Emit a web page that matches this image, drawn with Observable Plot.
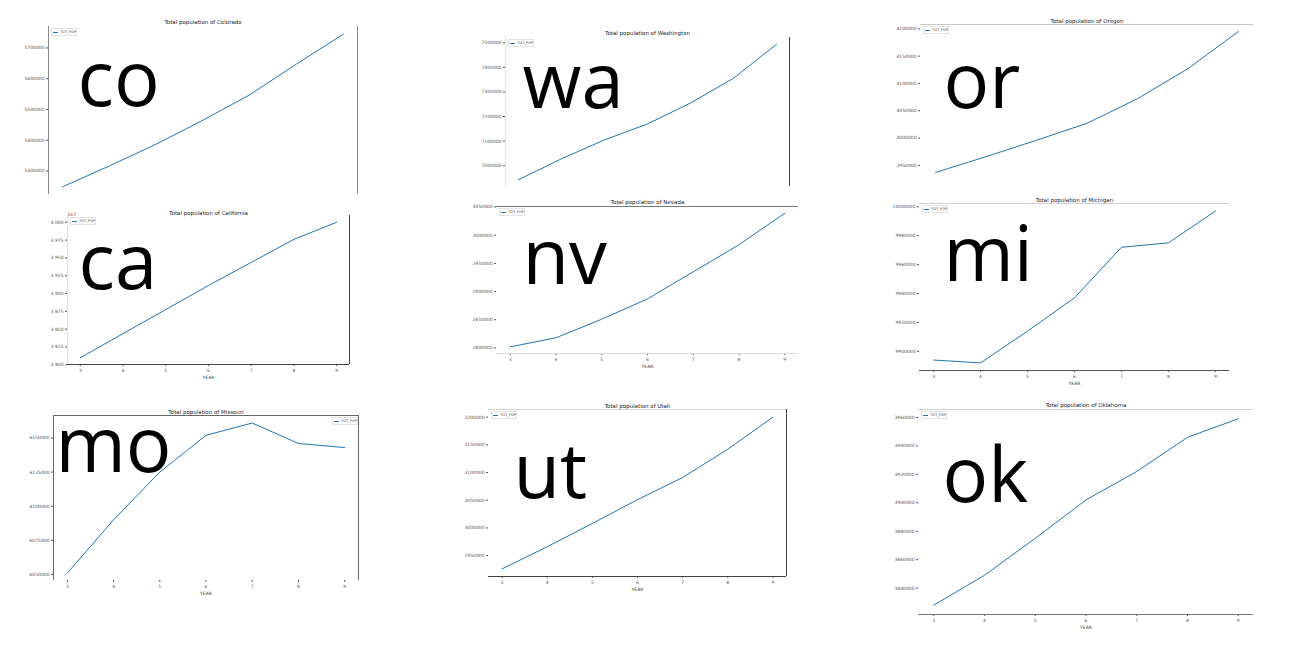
<!DOCTYPE html>
<html>
<head>
<meta charset="utf-8">
<script src="https://cdn.jsdelivr.net/npm/d3@7"></script>
<script src="https://cdn.jsdelivr.net/npm/@observablehq/plot@0.6"></script>
<style>
  html, body { margin: 0; padding: 0; background: #fff; }
  #wrap { position: relative; width: 1296px; height: 648px; overflow: hidden; background: #fff; }
  #wrap svg { position: absolute; max-width: none; }
  .legend { position: absolute; width: 24px; height: 6px; border: 0.5px solid #e2e2e2; background: #fff;
            font: 3.5px "DejaVu Sans", sans-serif; color: #444; display: flex; align-items: center; white-space: nowrap; }
  .legend i { display: inline-block; width: 7px; height: 0; border-top: 1px solid #1f77b4; margin: 0 2px 0 1px; }
</style>
</head>
<body>
<div id="wrap"></div>
<script>
// ---- data ----
const years = [3, 4, 5, 6, 7, 8, 9];
const stateCodes = ["co", "wa", "or", "ca", "nv", "mi", "mo", "ut", "ok"];
const stateNames = ["Colorado", "Washington", "Oregon", "California", "Nevada", "Michigan", "Missouri", "Utah", "Oklahoma"];
const seriesName = "TOT_POP";
const xLabel = "YEAR";

const coPop = [5248000, 5316000, 5387000, 5465000, 5548000, 5648000, 5745000];
const waPop = [6943000, 7028000, 7105000, 7170000, 7255000, 7356000, 7494000];
const orPop = [3937000, 3966000, 3996000, 4027000, 4072000, 4127000, 4195000];
const caPop = [38099000, 38437000, 38775000, 39113000, 39437000, 39761000, 40000000];
const nvPop = [2802000, 2818000, 2851000, 2887000, 2935000, 2983000, 3039000];
const miPop = [9894000, 9892000, 9914000, 9937000, 9972000, 9975000, 9997000];
const moPop = [6051000, 6090000, 6125000, 6152000, 6161000, 6146000, 6143000];
const utPop = [2926000, 2966000, 3008000, 3051000, 3091000, 3142000, 3200000];
const okPop = [3828000, 3849000, 3875000, 3902000, 3922000, 3946000, 3959000];

const coTicks = [5300000, 5400000, 5500000, 5600000, 5700000];
const waTicks = [7000000, 7100000, 7200000, 7300000, 7400000, 7500000];
const orTicks = [3950000, 4000000, 4050000, 4100000, 4150000, 4200000];
const caTicks = [38000000, 38250000, 38500000, 38750000, 39000000, 39250000, 39500000, 39750000, 40000000];
const nvTicks = [2800000, 2850000, 2900000, 2950000, 3000000, 3050000];
const miTicks = [9900000, 9920000, 9940000, 9960000, 9980000, 10000000];
const moTicks = [6050000, 6075000, 6100000, 6125000, 6150000];
const utTicks = [2950000, 3000000, 3050000, 3100000, 3150000, 3200000];
const okTicks = [3840000, 3860000, 3880000, 3900000, 3920000, 3940000, 3960000];

const pops = [coPop, waPop, orPop, caPop, nvPop, miPop, moPop, utPop, okPop];
const ticks = [coTicks, waTicks, orTicks, caTicks, nvTicks, miTicks, moTicks, utTicks, okTicks];

// ---- layout (page positions of each plot frame, spines, labels) ----
const layout = {
  co: {frame: [48, 26, 357, 194], spines: {left: "#8a8a8a", right: "#8a8a8a"}, xAxis: false, legend: "left", label: [29, 79], titleDy: -4},
  wa: {frame: [505, 37, 789, 186], spines: {left: "#e4e4e4", right: "#444"}, xAxis: false, legend: "left", label: [17, 70], titleDy: -4},
  or: {frame: [920, 24, 1253, 179], spines: {top: "#c8c8c8"}, xAxis: false, legend: "left", label: [23, 83], titleDy: -3},
  ca: {frame: [67, 215, 349, 364], spines: {left: "#e0e0e0", right: "#444", bottom: "#444"}, xAxis: true, legend: "left", label: [11, 73], titleDy: -2, offset: "1e7"},
  nv: {frame: [496, 206, 798, 353], spines: {top: "#777", bottom: "#dcdcdc"}, xAxis: true, legend: "left", label: [26, 77], titleDy: -4},
  mi: {frame: [919, 203, 1229, 370], spines: {top: "#cfcfcf", bottom: "#555"}, xAxis: true, legend: "left", label: [24, 77], titleDy: -3},
  mo: {frame: [53, 415, 358, 580], spines: {top: "#666", left: "#666", right: "#666"}, xAxis: true, legend: "right", label: [2, 56], titleDy: -3},
  ut: {frame: [488, 409, 786, 576], spines: {top: "#d4d4d4", right: "#444", bottom: "#444"}, xAxis: true, legend: "left", label: [25, 88], titleDy: -3},
  ok: {frame: [918, 409, 1253, 614], spines: {top: "#cfcfcf", bottom: "#777"}, xAxis: true, legend: "left", label: [24, 92], titleDy: -4}
};

const wrap = document.getElementById("wrap");

stateCodes.forEach((code, i) => {
  const L = layout[code];
  const pop = pops[i];
  const [l, t, r, b] = L.frame;
  const mL = 40, mR = 12, mT = 18, mB = L.xAxis ? 22 : 6;
  const min = d3.min(pop), max = d3.max(pop), pad = (max - min) * 0.05;
  const yDomain = [min - pad, max + pad];
  const xDomain = [years[0] - 0.3, years[years.length - 1] + 0.3];
  const data = years.map((yr, j) => ({year: yr, pop: pop[j]}));
  const fmt = L.offset ? (d => (d / 1e7).toFixed(3)) : d3.format("d");

  const marks = [];
  for (const [side, color] of Object.entries(L.spines)) {
    if (side === "left") marks.push(Plot.ruleX([xDomain[0]], {stroke: color, strokeWidth: 1}));
    if (side === "right") marks.push(Plot.ruleX([xDomain[1]], {stroke: color, strokeWidth: 1}));
    if (side === "top") marks.push(Plot.ruleY([yDomain[1]], {stroke: color, strokeWidth: 1}));
    if (side === "bottom") marks.push(Plot.ruleY([yDomain[0]], {stroke: color, strokeWidth: 1}));
  }
  marks.push(Plot.line(data, {x: "year", y: "pop", stroke: "#1f77b4", strokeWidth: 1}));
  marks.push(Plot.text([`Total population of ${stateNames[i]}`], {
    text: d => d, frameAnchor: "top", dy: L.titleDy, lineAnchor: "middle", fontSize: 5.5, fill: "#222"
  }));
  if (L.xAxis) marks.push(Plot.text([xLabel], {text: d => d, frameAnchor: "bottom", dy: 14, fontSize: 4.5, fill: "#444"}));
  if (L.offset) marks.push(Plot.text([L.offset], {text: d => d, frameAnchor: "top-left", dy: -3, fontSize: 4.5, textAnchor: "start", fill: "#444"}));
  marks.push(Plot.text([code], {
    text: d => d, frameAnchor: "top-left", dx: L.label[0], dy: L.label[1],
    fontSize: 76, fontFamily: "Open Sans", textAnchor: "start", lineAnchor: "bottom", fill: "#000"
  }));

  const svg = Plot.plot({
    width: (r - l) + mL + mR,
    height: (b - t) + mT + mB,
    marginLeft: mL, marginRight: mR, marginTop: mT, marginBottom: mB,
    style: {fontSize: "4.5px", fontFamily: "DejaVu Sans", background: "transparent", overflow: "visible", color: "#555"},
    x: {domain: xDomain, ticks: years, tickFormat: d => String(d), tickSize: 2, tickPadding: 2, label: null, axis: L.xAxis ? "bottom" : null},
    y: {domain: yDomain, ticks: ticks[i], tickFormat: fmt, tickSize: 2, tickPadding: 2, label: null},
    marks
  });
  svg.style.left = (l - mL) + "px";
  svg.style.top = (t - mT) + "px";
  wrap.appendChild(svg);

  const lg = document.createElement("div");
  lg.className = "legend";
  lg.innerHTML = `<i></i><span>${seriesName}</span>`;
  if (L.legend === "right") { lg.style.left = (r - 26) + "px"; } else { lg.style.left = (l + 3) + "px"; }
  lg.style.top = (t + 2) + "px";
  wrap.appendChild(lg);
});
</script>
</body>
</html>
